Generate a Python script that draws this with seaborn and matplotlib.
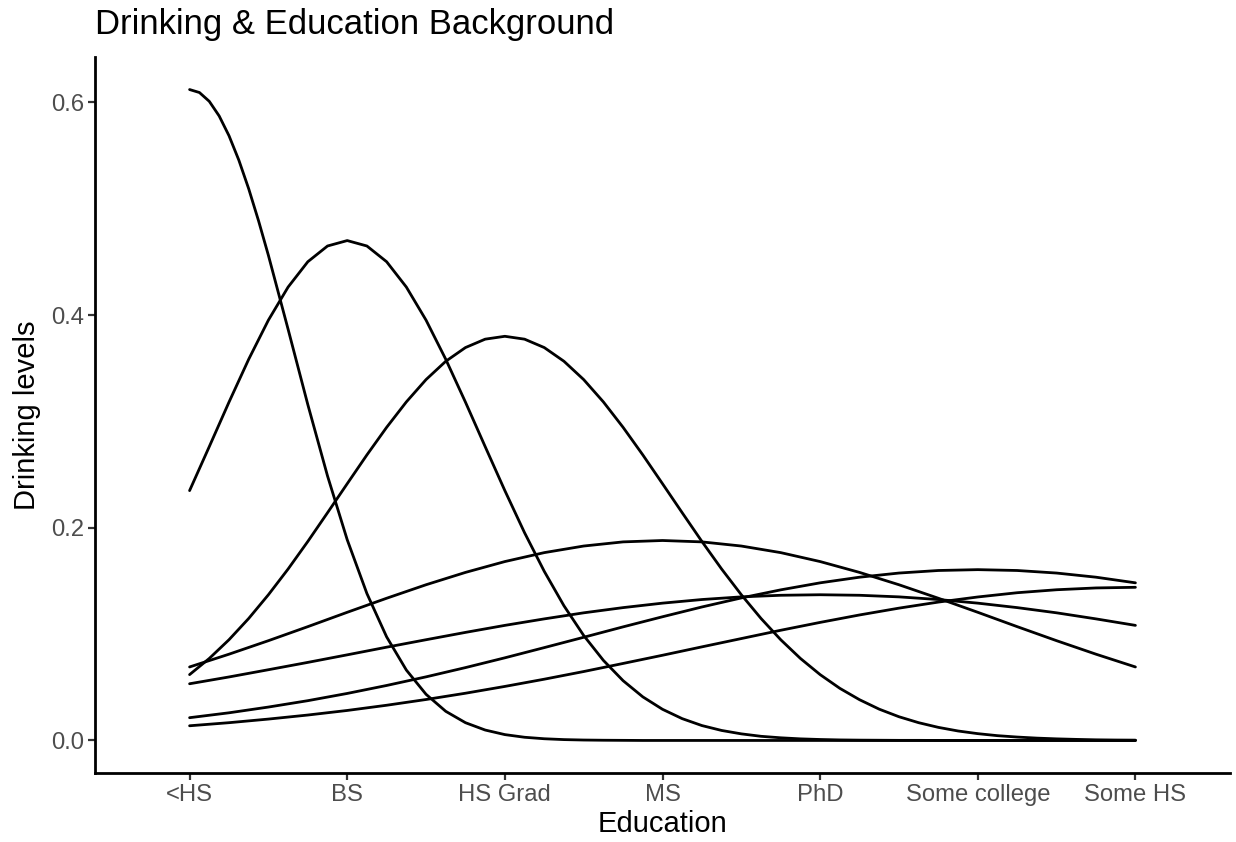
import matplotlib
matplotlib.use("Agg")
import matplotlib.pyplot as plt
import seaborn as sns
import pandas as pd

# Categories on the x axis
education = ["<HS", "BS", "HS Grad", "MS", "PhD", "Some college", "Some HS"]

# Sample positions along the category axis (category index, 1-based)
x_peak_a = [1.0, 1.0625, 1.125, 1.1875, 1.25, 1.3125, 1.375, 1.4375, 1.5, 1.625,
            1.75, 1.875, 2.0, 2.125, 2.25, 2.375, 2.5, 2.625, 2.75, 2.875, 3.0,
            3.125, 3.25, 3.375, 3.5, 3.625, 3.75, 3.875, 4.0, 4.5, 5.0, 5.5, 6.0,
            6.5, 7.0]
x_fine = [1.0, 1.125, 1.25, 1.375, 1.5, 1.625, 1.75, 1.875, 2.0, 2.125, 2.25, 2.375,
          2.5, 2.625, 2.75, 2.875, 3.0, 3.125, 3.25, 3.375, 3.5, 3.625, 3.75, 3.875,
          4.0, 4.125, 4.25, 4.375, 4.5, 4.625, 4.75, 4.875, 5.0, 5.125, 5.25, 5.375,
          5.5, 5.625, 5.75, 5.875, 6.0, 6.125, 6.25, 6.375, 6.5, 6.625, 6.75, 6.875, 7.0]
x_coarse = [1.0, 1.25, 1.5, 1.75, 2.0, 2.25, 2.5, 2.75, 3.0, 3.25, 3.5, 3.75,
            4.0, 4.25, 4.5, 4.75, 5.0, 5.25, 5.5, 5.75, 6.0, 6.25, 6.5, 6.75, 7.0]

# Curve values
curve_a = [0.612, 0.6092, 0.6009, 0.5872, 0.5686, 0.5456, 0.5187, 0.4886, 0.4561,
           0.3866, 0.3158, 0.2487, 0.1887, 0.1381, 0.0974, 0.0662, 0.0434, 0.0274,
           0.0167, 0.0098, 0.0055, 0.0030, 0.0016, 0.0008, 0.0004, 0.0002, 0.0001,
           0, 0, 0, 0, 0, 0, 0, 0]
curve_b = [0.2349, 0.2763, 0.3181, 0.3584, 0.3952, 0.4263, 0.4501, 0.4649, 0.470,
           0.4649, 0.4501, 0.4263, 0.3952, 0.3584, 0.3181, 0.2763, 0.2349, 0.1953,
           0.1590, 0.1266, 0.0987, 0.0753, 0.0562, 0.0410, 0.0293, 0.0205, 0.0140,
           0.0094, 0.0062, 0.0039, 0.0025, 0.0015, 0.0009, 0.0005, 0.0003, 0.0002,
           0.0001, 0.0001, 0, 0, 0, 0, 0, 0, 0, 0, 0, 0, 0]
curve_c = [0.0619, 0.0771, 0.0947, 0.1147, 0.1370, 0.1612, 0.1871, 0.2141, 0.2414,
           0.2685, 0.2944, 0.3183, 0.3393, 0.3565, 0.3694, 0.3773, 0.380, 0.3773,
           0.3694, 0.3565, 0.3393, 0.3183, 0.2944, 0.2685, 0.2414, 0.2141, 0.1871,
           0.1612, 0.1370, 0.1147, 0.0947, 0.0771, 0.0619, 0.0490, 0.0383, 0.0294,
           0.0223, 0.0167, 0.0123, 0.0089, 0.0064, 0.0045, 0.0032, 0.0022, 0.0015,
           0.0010, 0.0006, 0.0004, 0.0003]
curve_d = [0.0691, 0.0811, 0.0938, 0.1070, 0.1205, 0.1337, 0.1464, 0.1580, 0.1682,
           0.1766, 0.1828, 0.1867, 0.188, 0.1867, 0.1828, 0.1766, 0.1682, 0.1580,
           0.1464, 0.1337, 0.1205, 0.1070, 0.0938, 0.0811, 0.0691]
curve_e = [0.0214, 0.0260, 0.0314, 0.0374, 0.0442, 0.0517, 0.0598, 0.0685, 0.0777,
           0.0873, 0.0970, 0.1068, 0.1163, 0.1255, 0.1340, 0.1416, 0.1482, 0.1535,
           0.1574, 0.1598, 0.1606, 0.1598, 0.1574, 0.1535, 0.1482]
curve_f = [0.0533, 0.0597, 0.0665, 0.0734, 0.0805, 0.0877, 0.0947, 0.1016, 0.1082,
           0.1143, 0.1200, 0.1249, 0.1291, 0.1325, 0.1350, 0.1365, 0.137, 0.1365,
           0.1350, 0.1325, 0.1291, 0.1249, 0.1200, 0.1143, 0.1082]
curve_g = [0.0138, 0.0167, 0.0201, 0.0239, 0.0282, 0.0331, 0.0385, 0.0444, 0.0508,
           0.0576, 0.0648, 0.0724, 0.0801, 0.0880, 0.0958, 0.1036, 0.1110, 0.1180,
           0.1244, 0.1301, 0.1349, 0.1389, 0.1417, 0.1434, 0.1440]

y_ticks = [0.0, 0.2, 0.4, 0.6]
y_tick_labels = ["0.0", "0.2", "0.4", "0.6"]

series = [("a", x_peak_a, curve_a), ("b", x_fine, curve_b), ("c", x_fine, curve_c),
          ("d", x_coarse, curve_d), ("e", x_coarse, curve_e),
          ("f", x_coarse, curve_f), ("g", x_coarse, curve_g)]
df = pd.concat([pd.DataFrame({"x": xs, "y": ys, "curve": name}) for name, xs, ys in series],
               ignore_index=True)

sns.set_theme(style="white")
plt.rcParams["font.family"] = ["Liberation Sans", "DejaVu Sans"]

fig = plt.figure(figsize=(12.36, 8.42), dpi=100)
ax = fig.add_axes([95 / 1236, 1 - 773 / 842, (1230 - 95) / 1236, (773 - 57) / 842])

sns.lineplot(data=df, x="x", y="y", units="curve", estimator=None,
             color="black", linewidth=2.0, ax=ax, sort=False)

ax.set_xlim(0.4, 7.6)
ax.set_ylim(-0.0306, 0.6426)
ax.set_xticks(range(1, len(education) + 1))
ax.set_xticklabels(education)
ax.set_yticks(y_ticks)
ax.set_yticklabels(y_tick_labels)

for side in ["top", "right"]:
    ax.spines[side].set_visible(False)
for side in ["left", "bottom"]:
    ax.spines[side].set_color("black")
    ax.spines[side].set_linewidth(2.0)

ax.tick_params(axis="both", which="major", length=5, width=1.6, color="#333333",
               labelsize=17.2, labelcolor="#4D4D4D", pad=3, bottom=True, left=True)

ax.set_xlabel("Education", fontsize=21, color="black", labelpad=3)
ax.set_ylabel("Drinking levels", fontsize=21, color="black", labelpad=7)

fig.text(95 / 1236, 1 - 34 / 842, "Drinking & Education Background",
         fontsize=24.9, color="black", ha="left", va="baseline")

fig.savefig("out.png", dpi=100, facecolor="white")
